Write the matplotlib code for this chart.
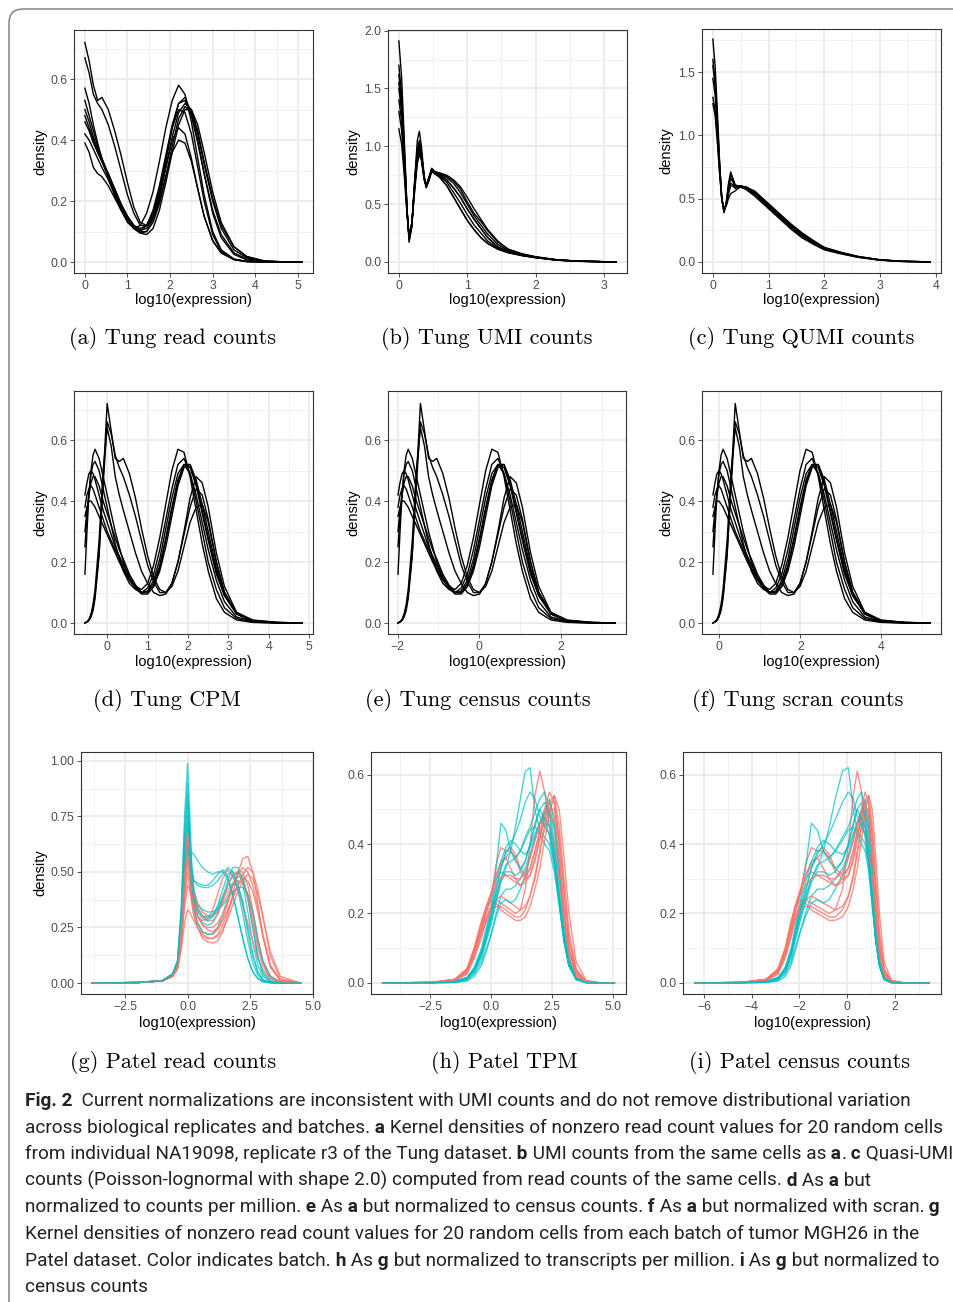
import matplotlib
matplotlib.use("Agg")
import matplotlib.pyplot as plt
from matplotlib.patches import FancyBboxPatch
from matplotlib.transforms import IdentityTransform

W, H = 954, 1302
plt.rcParams['font.family'] = ['Liberation Sans', 'DejaVu Sans']

# ---- (a) Tung read counts ----
a_x = [0, 0.1, 0.2, 0.3, 0.4, 0.55, 0.7, 0.85, 1.0, 1.15, 1.3, 1.45, 1.6, 1.75, 1.9, 2.05,
       2.2, 2.35, 2.5, 2.65, 2.8, 3.0, 3.2, 3.5, 3.8, 4.2, 4.6, 5.1]
a_curves = [
    [0.72, 0.66, 0.58, 0.53, 0.54, 0.50, 0.43, 0.35, 0.26, 0.18, 0.13, 0.12, 0.14, 0.20, 0.28, 0.36, 0.40, 0.39, 0.33, 0.24, 0.15, 0.07, 0.03, 0.008, 0.002, 0, 0, 0],
    [0.67, 0.62, 0.55, 0.52, 0.50, 0.45, 0.38, 0.30, 0.22, 0.16, 0.12, 0.12, 0.15, 0.22, 0.31, 0.40, 0.44, 0.42, 0.34, 0.24, 0.15, 0.07, 0.03, 0.008, 0.002, 0, 0, 0],
    [0.57, 0.52, 0.45, 0.39, 0.34, 0.28, 0.22, 0.17, 0.13, 0.11, 0.12, 0.16, 0.23, 0.33, 0.44, 0.53, 0.58, 0.55, 0.46, 0.34, 0.22, 0.10, 0.04, 0.01, 0.002, 0, 0, 0],
    [0.50, 0.46, 0.41, 0.37, 0.33, 0.28, 0.23, 0.18, 0.14, 0.11, 0.10, 0.12, 0.17, 0.25, 0.35, 0.45, 0.52, 0.53, 0.48, 0.39, 0.29, 0.17, 0.09, 0.03, 0.01, 0.002, 0, 0],
    [0.46, 0.43, 0.39, 0.36, 0.33, 0.28, 0.23, 0.18, 0.14, 0.11, 0.095, 0.10, 0.14, 0.21, 0.31, 0.41, 0.49, 0.52, 0.50, 0.43, 0.33, 0.21, 0.12, 0.05, 0.018, 0.004, 0.001, 0],
    [0.42, 0.40, 0.37, 0.34, 0.31, 0.27, 0.22, 0.18, 0.14, 0.11, 0.095, 0.09, 0.11, 0.17, 0.26, 0.36, 0.45, 0.50, 0.50, 0.45, 0.36, 0.23, 0.13, 0.05, 0.018, 0.004, 0.001, 0],
    [0.39, 0.36, 0.31, 0.29, 0.28, 0.25, 0.21, 0.17, 0.14, 0.115, 0.10, 0.10, 0.13, 0.19, 0.28, 0.38, 0.47, 0.51, 0.49, 0.42, 0.32, 0.20, 0.11, 0.04, 0.014, 0.003, 0, 0],
    [0.48, 0.44, 0.40, 0.36, 0.33, 0.29, 0.24, 0.19, 0.15, 0.12, 0.105, 0.11, 0.15, 0.23, 0.33, 0.44, 0.52, 0.54, 0.49, 0.40, 0.29, 0.16, 0.08, 0.025, 0.007, 0.001, 0, 0],
    [0.53, 0.48, 0.43, 0.38, 0.34, 0.29, 0.24, 0.19, 0.15, 0.12, 0.11, 0.12, 0.16, 0.24, 0.34, 0.44, 0.50, 0.49, 0.42, 0.31, 0.20, 0.09, 0.035, 0.008, 0.001, 0, 0, 0],
]

# ---- (b) Tung UMI counts ----
b_x = [0, 0.04, 0.08, 0.12, 0.15, 0.19, 0.23, 0.27, 0.30, 0.33, 0.37, 0.40, 0.44, 0.48, 0.53,
       0.6, 0.7, 0.8, 0.9, 1.0, 1.1, 1.2, 1.3, 1.45, 1.6, 1.8, 2.0, 2.3, 2.6, 3.18]
b_curves = [
    [1.91, 1.60, 1.05, 0.45, 0.17, 0.30, 0.70, 1.05, 1.13, 1.00, 0.75, 0.64, 0.70, 0.78, 0.76, 0.75, 0.71, 0.64, 0.56, 0.46, 0.37, 0.29, 0.21, 0.13, 0.09, 0.06, 0.04, 0.018, 0.007, 0],
    [1.70, 1.45, 0.98, 0.45, 0.20, 0.32, 0.68, 0.98, 1.05, 0.95, 0.74, 0.66, 0.72, 0.80, 0.77, 0.76, 0.74, 0.70, 0.63, 0.52, 0.42, 0.35, 0.27, 0.17, 0.11, 0.07, 0.045, 0.02, 0.008, 0],
    [1.55, 1.33, 0.92, 0.44, 0.21, 0.33, 0.66, 0.94, 1.00, 0.92, 0.73, 0.66, 0.73, 0.81, 0.78, 0.73, 0.66, 0.56, 0.46, 0.36, 0.28, 0.21, 0.16, 0.11, 0.08, 0.055, 0.037, 0.016, 0.006, 0],
    [1.40, 1.22, 0.86, 0.43, 0.22, 0.34, 0.64, 0.90, 0.97, 0.90, 0.72, 0.66, 0.73, 0.80, 0.78, 0.76, 0.73, 0.68, 0.60, 0.50, 0.40, 0.32, 0.24, 0.15, 0.10, 0.065, 0.042, 0.019, 0.007, 0],
    [1.15, 1.02, 0.74, 0.40, 0.23, 0.33, 0.60, 0.85, 0.93, 0.88, 0.71, 0.65, 0.72, 0.79, 0.78, 0.77, 0.75, 0.71, 0.65, 0.56, 0.46, 0.37, 0.28, 0.18, 0.11, 0.07, 0.045, 0.02, 0.008, 0],
    [1.62, 1.38, 0.94, 0.44, 0.19, 0.31, 0.67, 0.97, 1.03, 0.93, 0.73, 0.65, 0.71, 0.79, 0.76, 0.73, 0.66, 0.56, 0.46, 0.36, 0.28, 0.21, 0.16, 0.11, 0.08, 0.055, 0.037, 0.016, 0.006, 0],
    [1.30, 1.14, 0.81, 0.42, 0.22, 0.34, 0.63, 0.89, 0.96, 0.89, 0.72, 0.66, 0.72, 0.79, 0.77, 0.75, 0.71, 0.64, 0.56, 0.46, 0.37, 0.29, 0.21, 0.13, 0.09, 0.06, 0.04, 0.018, 0.007, 0],
    [1.50, 1.30, 0.90, 0.44, 0.21, 0.33, 0.65, 0.93, 1.00, 0.91, 0.73, 0.65, 0.72, 0.80, 0.77, 0.74, 0.69, 0.60, 0.51, 0.41, 0.32, 0.25, 0.18, 0.12, 0.085, 0.058, 0.038, 0.017, 0.006, 0],
]

# ---- (c) Tung QUMI counts ----
c_x = [0, 0.04, 0.08, 0.12, 0.16, 0.2, 0.24, 0.28, 0.32, 0.36, 0.40, 0.45, 0.5, 0.6, 0.75,
       0.9, 1.05, 1.2, 1.4, 1.6, 1.8, 2.0, 2.3, 2.6, 3.0, 3.4, 3.9]
c_curves = [
    [1.76, 1.55, 1.20, 0.80, 0.50, 0.39, 0.47, 0.62, 0.71, 0.66, 0.61, 0.60, 0.60, 0.58, 0.53, 0.47, 0.41, 0.35, 0.27, 0.20, 0.145, 0.10, 0.068, 0.038, 0.014, 0.004, 0],
    [1.60, 1.43, 1.13, 0.78, 0.50, 0.40, 0.46, 0.58, 0.66, 0.63, 0.60, 0.60, 0.60, 0.58, 0.54, 0.48, 0.42, 0.36, 0.28, 0.21, 0.15, 0.105, 0.07, 0.04, 0.015, 0.004, 0],
    [1.45, 1.32, 1.06, 0.75, 0.50, 0.41, 0.45, 0.55, 0.62, 0.61, 0.59, 0.60, 0.60, 0.59, 0.55, 0.49, 0.43, 0.37, 0.29, 0.22, 0.16, 0.11, 0.073, 0.042, 0.016, 0.004, 0],
    [1.30, 1.20, 0.98, 0.72, 0.50, 0.42, 0.44, 0.50, 0.54, 0.55, 0.56, 0.58, 0.59, 0.59, 0.56, 0.50, 0.44, 0.38, 0.30, 0.23, 0.17, 0.115, 0.076, 0.044, 0.017, 0.005, 0],
    [1.55, 1.40, 1.10, 0.77, 0.50, 0.39, 0.46, 0.60, 0.69, 0.65, 0.60, 0.59, 0.59, 0.57, 0.52, 0.46, 0.40, 0.34, 0.26, 0.19, 0.14, 0.095, 0.063, 0.036, 0.013, 0.003, 0],
    [1.25, 1.16, 0.95, 0.70, 0.49, 0.41, 0.45, 0.54, 0.60, 0.60, 0.58, 0.59, 0.60, 0.59, 0.55, 0.49, 0.43, 0.37, 0.29, 0.22, 0.16, 0.11, 0.072, 0.041, 0.015, 0.004, 0],
]

# ---- (d) CPM, (e) census, (f) scran: same cells, x grids per panel ----
d_x = [-0.55, -0.5, -0.45, -0.4, -0.35, -0.3, -0.2, -0.1, 0.0, 0.1, 0.2, 0.3, 0.4, 0.55, 0.7, 0.85,
       1.0, 1.15, 1.3, 1.45, 1.6, 1.75, 1.9, 2.05, 2.2, 2.35, 2.5, 2.7, 2.9, 3.2, 3.6, 4.2, 4.82]
e_x = [-1.99, -1.94, -1.89, -1.84, -1.79, -1.74, -1.64, -1.54, -1.44, -1.34, -1.24, -1.14, -1.04, -0.89,
       -0.74, -0.59, -0.44, -0.29, -0.14, 0.01, 0.16, 0.31, 0.46, 0.61, 0.76, 0.91, 1.06, 1.26, 1.46,
       1.76, 2.16, 2.76, 3.33]
f_x = [-0.16, -0.11, -0.06, -0.01, 0.04, 0.09, 0.19, 0.29, 0.39, 0.49, 0.59, 0.69, 0.79, 0.94, 1.09,
       1.24, 1.39, 1.54, 1.69, 1.84, 1.99, 2.14, 2.29, 2.44, 2.59, 2.74, 2.89, 3.09, 3.29, 3.59, 3.99,
       4.59, 5.2]
norm_curves = [
    [0, 0.003, 0.008, 0.02, 0.04, 0.08, 0.22, 0.47, 0.72, 0.63, 0.54, 0.53, 0.54, 0.49, 0.41, 0.31, 0.22, 0.15, 0.11, 0.10, 0.12, 0.17, 0.25, 0.33, 0.38, 0.39, 0.33, 0.20, 0.10, 0.03, 0.005, 0.001, 0],
    [0, 0.004, 0.01, 0.025, 0.05, 0.09, 0.23, 0.45, 0.66, 0.62, 0.55, 0.51, 0.48, 0.42, 0.35, 0.27, 0.19, 0.135, 0.10, 0.10, 0.13, 0.20, 0.29, 0.38, 0.44, 0.42, 0.34, 0.20, 0.10, 0.03, 0.005, 0.001, 0],
    [0, 0.005, 0.012, 0.03, 0.06, 0.11, 0.27, 0.50, 0.64, 0.58, 0.48, 0.42, 0.37, 0.30, 0.23, 0.17, 0.13, 0.10, 0.09, 0.095, 0.13, 0.20, 0.30, 0.41, 0.48, 0.46, 0.38, 0.23, 0.12, 0.035, 0.006, 0.001, 0],
    [0.16, 0.30, 0.42, 0.50, 0.55, 0.57, 0.54, 0.48, 0.42, 0.36, 0.30, 0.25, 0.20, 0.15, 0.12, 0.11, 0.13, 0.19, 0.28, 0.39, 0.50, 0.57, 0.56, 0.48, 0.37, 0.26, 0.17, 0.08, 0.035, 0.01, 0.002, 0, 0],
    [0.42, 0.46, 0.49, 0.50, 0.49, 0.47, 0.42, 0.37, 0.33, 0.29, 0.25, 0.22, 0.19, 0.15, 0.12, 0.10, 0.10, 0.13, 0.19, 0.28, 0.38, 0.47, 0.52, 0.51, 0.45, 0.36, 0.27, 0.16, 0.09, 0.03, 0.008, 0.002, 0],
    [0.30, 0.37, 0.42, 0.46, 0.48, 0.48, 0.45, 0.40, 0.36, 0.32, 0.28, 0.24, 0.21, 0.16, 0.125, 0.10, 0.10, 0.12, 0.17, 0.25, 0.35, 0.45, 0.51, 0.52, 0.47, 0.39, 0.30, 0.18, 0.10, 0.035, 0.01, 0.002, 0],
    [0.38, 0.42, 0.44, 0.45, 0.44, 0.42, 0.38, 0.34, 0.30, 0.27, 0.24, 0.21, 0.18, 0.145, 0.115, 0.095, 0.095, 0.12, 0.18, 0.27, 0.37, 0.46, 0.52, 0.52, 0.46, 0.37, 0.28, 0.17, 0.09, 0.03, 0.008, 0.002, 0],
    [0.25, 0.35, 0.43, 0.49, 0.52, 0.53, 0.50, 0.44, 0.38, 0.32, 0.26, 0.21, 0.17, 0.13, 0.11, 0.10, 0.115, 0.16, 0.24, 0.34, 0.44, 0.52, 0.54, 0.49, 0.40, 0.30, 0.20, 0.11, 0.05, 0.015, 0.003, 0, 0],
    [0.35, 0.38, 0.40, 0.40, 0.39, 0.38, 0.35, 0.32, 0.29, 0.26, 0.23, 0.20, 0.175, 0.14, 0.115, 0.10, 0.105, 0.14, 0.21, 0.31, 0.41, 0.49, 0.52, 0.49, 0.42, 0.33, 0.24, 0.14, 0.07, 0.02, 0.005, 0.001, 0],
]

# ---- (g) Patel read counts, two batches ----
g_x = [-3.8, -2.0, -1.0, -0.6, -0.4, -0.25, -0.12, 0.0, 0.08, 0.16, 0.25, 0.4, 0.6, 0.8, 1.0, 1.2,
       1.4, 1.6, 1.8, 2.0, 2.2, 2.4, 2.6, 2.8, 3.0, 3.3, 3.7, 4.5]
g_red = [
    [0, 0.002, 0.01, 0.03, 0.08, 0.25, 0.52, 0.72, 0.62, 0.50, 0.42, 0.36, 0.32, 0.30, 0.30, 0.32, 0.36, 0.40, 0.44, 0.46, 0.45, 0.40, 0.30, 0.18, 0.09, 0.03, 0.005, 0],
    [0, 0.002, 0.01, 0.03, 0.07, 0.22, 0.45, 0.62, 0.52, 0.40, 0.32, 0.25, 0.20, 0.185, 0.18, 0.19, 0.23, 0.30, 0.40, 0.49, 0.56, 0.57, 0.50, 0.36, 0.21, 0.07, 0.01, 0],
    [0, 0.002, 0.01, 0.03, 0.07, 0.20, 0.40, 0.55, 0.47, 0.38, 0.32, 0.27, 0.23, 0.22, 0.22, 0.24, 0.28, 0.33, 0.39, 0.44, 0.49, 0.52, 0.50, 0.42, 0.30, 0.12, 0.02, 0],
    [0, 0.002, 0.01, 0.03, 0.07, 0.18, 0.34, 0.44, 0.42, 0.38, 0.34, 0.30, 0.28, 0.29, 0.33, 0.40, 0.47, 0.51, 0.48, 0.42, 0.35, 0.27, 0.19, 0.11, 0.06, 0.02, 0.003, 0],
    [0, 0.002, 0.01, 0.03, 0.06, 0.15, 0.27, 0.33, 0.32, 0.30, 0.28, 0.25, 0.22, 0.205, 0.20, 0.21, 0.24, 0.29, 0.35, 0.41, 0.46, 0.49, 0.47, 0.40, 0.30, 0.14, 0.03, 0],
    [0, 0.002, 0.01, 0.03, 0.08, 0.24, 0.49, 0.65, 0.56, 0.45, 0.37, 0.30, 0.26, 0.24, 0.23, 0.25, 0.29, 0.36, 0.44, 0.50, 0.50, 0.44, 0.33, 0.20, 0.10, 0.03, 0.004, 0],
    [0, 0.002, 0.01, 0.03, 0.07, 0.22, 0.45, 0.60, 0.52, 0.43, 0.36, 0.30, 0.26, 0.25, 0.25, 0.27, 0.31, 0.37, 0.44, 0.49, 0.52, 0.50, 0.44, 0.34, 0.22, 0.08, 0.012, 0],
    [0, 0.002, 0.01, 0.03, 0.07, 0.19, 0.38, 0.50, 0.44, 0.36, 0.30, 0.25, 0.21, 0.20, 0.20, 0.22, 0.26, 0.32, 0.38, 0.44, 0.47, 0.46, 0.41, 0.32, 0.21, 0.08, 0.012, 0],
    [0, 0.002, 0.01, 0.03, 0.08, 0.25, 0.51, 0.68, 0.58, 0.47, 0.40, 0.34, 0.30, 0.28, 0.28, 0.31, 0.37, 0.44, 0.49, 0.50, 0.46, 0.38, 0.27, 0.16, 0.08, 0.02, 0.003, 0],
]
g_teal = [
    [0, 0.002, 0.01, 0.04, 0.10, 0.35, 0.75, 0.99, 0.78, 0.55, 0.42, 0.34, 0.30, 0.29, 0.30, 0.33, 0.38, 0.42, 0.45, 0.44, 0.37, 0.25, 0.13, 0.05, 0.015, 0.002, 0, 0],
    [0, 0.003, 0.012, 0.04, 0.09, 0.28, 0.52, 0.62, 0.60, 0.59, 0.58, 0.55, 0.52, 0.50, 0.49, 0.50, 0.50, 0.47, 0.40, 0.30, 0.20, 0.11, 0.05, 0.02, 0.006, 0.001, 0, 0],
    [0, 0.002, 0.01, 0.04, 0.09, 0.30, 0.65, 0.85, 0.68, 0.48, 0.37, 0.30, 0.27, 0.26, 0.27, 0.31, 0.38, 0.46, 0.52, 0.52, 0.45, 0.32, 0.18, 0.08, 0.03, 0.005, 0, 0],
    [0, 0.002, 0.01, 0.04, 0.09, 0.27, 0.55, 0.70, 0.60, 0.50, 0.46, 0.44, 0.43, 0.43, 0.44, 0.46, 0.49, 0.52, 0.50, 0.42, 0.31, 0.19, 0.09, 0.035, 0.01, 0.002, 0, 0],
    [0, 0.002, 0.01, 0.04, 0.09, 0.28, 0.58, 0.75, 0.60, 0.44, 0.34, 0.27, 0.23, 0.22, 0.22, 0.25, 0.31, 0.38, 0.44, 0.48, 0.47, 0.38, 0.25, 0.12, 0.05, 0.01, 0.001, 0],
    [0, 0.002, 0.01, 0.035, 0.08, 0.24, 0.47, 0.60, 0.52, 0.44, 0.39, 0.35, 0.33, 0.32, 0.32, 0.33, 0.35, 0.38, 0.41, 0.43, 0.43, 0.40, 0.32, 0.20, 0.10, 0.03, 0.004, 0],
    [0, 0.002, 0.01, 0.04, 0.10, 0.33, 0.70, 0.90, 0.70, 0.52, 0.46, 0.45, 0.44, 0.44, 0.46, 0.49, 0.51, 0.48, 0.40, 0.30, 0.20, 0.11, 0.05, 0.02, 0.006, 0.001, 0, 0],
    [0, 0.002, 0.01, 0.04, 0.09, 0.26, 0.52, 0.65, 0.55, 0.45, 0.38, 0.33, 0.30, 0.30, 0.31, 0.34, 0.39, 0.44, 0.48, 0.50, 0.48, 0.39, 0.25, 0.12, 0.04, 0.008, 0, 0],
    [0, 0.002, 0.01, 0.04, 0.10, 0.31, 0.62, 0.80, 0.64, 0.47, 0.38, 0.32, 0.29, 0.28, 0.30, 0.35, 0.42, 0.49, 0.50, 0.45, 0.35, 0.23, 0.12, 0.05, 0.015, 0.002, 0, 0],
]

# ---- (h) Patel TPM, (i) Patel census counts ----
h_x = [-4.47, -2.5, -1.5, -1.0, -0.7, -0.4, -0.2, 0.0, 0.2, 0.4, 0.6, 0.8, 1.0, 1.2, 1.4, 1.6,
       1.8, 2.0, 2.2, 2.4, 2.6, 2.8, 3.0, 3.2, 3.5, 3.9, 4.5, 5.07]
i_x = [-6.39, -4.5, -3.4, -2.9, -2.6, -2.35, -2.18, -2.0, -1.75, -1.5, -1.25, -1.0, -0.75, -0.5,
       -0.2, 0.05, 0.25, 0.42, 0.6, 0.75, 0.9, 1.05, 1.2, 1.35, 1.55, 1.85, 2.4, 3.44]
tpm_red = [
    [0, 0.001, 0.01, 0.04, 0.10, 0.18, 0.22, 0.25, 0.34, 0.39, 0.38, 0.39, 0.37, 0.33, 0.31, 0.33, 0.38, 0.44, 0.49, 0.52, 0.48, 0.36, 0.21, 0.10, 0.03, 0.004, 0, 0],
    [0, 0.001, 0.008, 0.03, 0.08, 0.15, 0.19, 0.22, 0.24, 0.23, 0.22, 0.21, 0.20, 0.21, 0.27, 0.40, 0.54, 0.61, 0.55, 0.45, 0.36, 0.25, 0.14, 0.06, 0.015, 0.002, 0, 0],
    [0, 0.001, 0.008, 0.03, 0.08, 0.15, 0.20, 0.24, 0.23, 0.21, 0.20, 0.19, 0.18, 0.18, 0.19, 0.22, 0.27, 0.33, 0.41, 0.49, 0.54, 0.50, 0.36, 0.20, 0.06, 0.008, 0, 0],
    [0, 0.001, 0.01, 0.04, 0.09, 0.17, 0.22, 0.26, 0.30, 0.32, 0.31, 0.30, 0.29, 0.28, 0.29, 0.31, 0.35, 0.41, 0.48, 0.50, 0.45, 0.33, 0.20, 0.09, 0.025, 0.003, 0, 0],
    [0, 0.001, 0.006, 0.025, 0.07, 0.13, 0.18, 0.22, 0.24, 0.25, 0.24, 0.23, 0.22, 0.21, 0.22, 0.25, 0.30, 0.37, 0.45, 0.52, 0.54, 0.45, 0.30, 0.15, 0.04, 0.005, 0, 0],
    [0, 0.001, 0.01, 0.035, 0.09, 0.16, 0.21, 0.25, 0.31, 0.35, 0.36, 0.33, 0.30, 0.28, 0.30, 0.33, 0.38, 0.43, 0.46, 0.45, 0.40, 0.30, 0.18, 0.08, 0.02, 0.002, 0, 0],
    [0, 0.001, 0.01, 0.04, 0.10, 0.17, 0.22, 0.26, 0.31, 0.34, 0.36, 0.38, 0.36, 0.32, 0.30, 0.31, 0.36, 0.42, 0.48, 0.52, 0.52, 0.42, 0.26, 0.12, 0.035, 0.004, 0, 0],
    [0, 0.001, 0.008, 0.03, 0.08, 0.14, 0.18, 0.21, 0.22, 0.22, 0.21, 0.20, 0.19, 0.19, 0.21, 0.25, 0.31, 0.38, 0.45, 0.50, 0.50, 0.41, 0.27, 0.13, 0.035, 0.004, 0, 0],
    [0, 0.001, 0.01, 0.035, 0.09, 0.16, 0.21, 0.25, 0.28, 0.30, 0.31, 0.31, 0.30, 0.30, 0.32, 0.36, 0.41, 0.46, 0.50, 0.55, 0.52, 0.38, 0.22, 0.10, 0.025, 0.003, 0, 0],
]
tpm_teal = [
    [0, 0.001, 0.004, 0.015, 0.04, 0.09, 0.14, 0.19, 0.25, 0.30, 0.33, 0.38, 0.45, 0.53, 0.61, 0.62, 0.50, 0.44, 0.42, 0.40, 0.34, 0.23, 0.12, 0.05, 0.01, 0.001, 0, 0],
    [0, 0.001, 0.004, 0.015, 0.045, 0.10, 0.16, 0.22, 0.33, 0.46, 0.44, 0.38, 0.36, 0.38, 0.42, 0.45, 0.49, 0.53, 0.55, 0.50, 0.40, 0.27, 0.14, 0.06, 0.012, 0.001, 0, 0],
    [0, 0, 0.002, 0.008, 0.025, 0.06, 0.10, 0.14, 0.20, 0.25, 0.27, 0.27, 0.28, 0.30, 0.33, 0.37, 0.42, 0.46, 0.49, 0.50, 0.44, 0.31, 0.17, 0.07, 0.015, 0.002, 0, 0],
    [0, 0.001, 0.003, 0.012, 0.035, 0.08, 0.13, 0.18, 0.24, 0.30, 0.34, 0.35, 0.36, 0.38, 0.41, 0.44, 0.45, 0.43, 0.40, 0.38, 0.32, 0.22, 0.12, 0.05, 0.01, 0.001, 0, 0],
    [0, 0, 0.001, 0.005, 0.018, 0.05, 0.09, 0.14, 0.19, 0.23, 0.24, 0.23, 0.24, 0.27, 0.31, 0.36, 0.41, 0.46, 0.50, 0.53, 0.46, 0.32, 0.17, 0.07, 0.015, 0.002, 0, 0],
    [0, 0.001, 0.004, 0.015, 0.04, 0.09, 0.15, 0.21, 0.29, 0.35, 0.39, 0.41, 0.40, 0.38, 0.37, 0.39, 0.43, 0.46, 0.48, 0.45, 0.36, 0.24, 0.12, 0.05, 0.01, 0.001, 0, 0],
    [0, 0.001, 0.004, 0.015, 0.04, 0.09, 0.14, 0.20, 0.27, 0.33, 0.37, 0.40, 0.43, 0.47, 0.52, 0.55, 0.53, 0.48, 0.45, 0.43, 0.36, 0.24, 0.12, 0.05, 0.01, 0.001, 0, 0],
    [0, 0, 0.002, 0.01, 0.03, 0.07, 0.12, 0.17, 0.23, 0.29, 0.32, 0.32, 0.31, 0.32, 0.35, 0.40, 0.45, 0.50, 0.52, 0.48, 0.38, 0.25, 0.13, 0.05, 0.01, 0.001, 0, 0],
    [0, 0.001, 0.003, 0.012, 0.035, 0.08, 0.13, 0.19, 0.26, 0.33, 0.38, 0.38, 0.35, 0.33, 0.35, 0.40, 0.46, 0.50, 0.47, 0.42, 0.34, 0.23, 0.12, 0.05, 0.01, 0.001, 0, 0],
]

sub_captions = ["(a) Tung read counts", "(b) Tung UMI counts", "(c) Tung QUMI counts",
                "(d) Tung CPM", "(e) Tung census counts", "(f) Tung scran counts",
                "(g) Patel read counts", "(h) Patel TPM", "(i) Patel census counts"]

R, B = False, True
caption_lines = [
    [("Fig. 2", B), ("  Current normalizations are inconsistent with UMI counts and do not remove distributional variation", R)],
    [("across biological replicates and batches.", R), (" a", B), (" Kernel densities of nonzero read count values for 20 random cells", R)],
    [("from individual NA19098, replicate r3 of the Tung dataset.", R), (" b", B), (" UMI counts from the same cells as", R),
     (" a", B), (".", R), (" c", B), (" Quasi-UMI", R)],
    [("counts (Poisson-lognormal with shape 2.0) computed from read counts of the same cells.", R), (" d", B),
     (" As", R), (" a", B), (" but", R)],
    [("normalized to counts per million.", R), (" e", B), (" As", R), (" a", B), (" but normalized to census counts.", R),
     (" f", B), (" As", R), (" a", B), (" but normalized with scran.", R), (" g", B)],
    [("Kernel densities of nonzero read count values for 20 random cells from each batch of tumor MGH26 in the", R)],
    [("Patel dataset. Color indicates batch.", R), (" h", B), (" As", R), (" g", B), (" but normalized to transcripts per million.", R),
     (" i", B), (" As", R), (" g", B), (" but normalized to", R)],
    [("census counts", R)],
]

RED, TEAL = "#F8766D", "#00BFC4"

fig = plt.figure(figsize=(W / 100, H / 100), dpi=100)
fig.patch.set_facecolor("white")


def panel(box, xlim, ylim, xt, xtl, xmin, yt, ytl, ymin, xlab_y, ylab_x=None):
    l, t, r, b = box
    ax = fig.add_axes([l / W, 1 - b / H, (r - l) / W, (b - t) / H])
    ax.set_xlim(xlim)
    ax.set_ylim(ylim)
    ax.set_xticks(xt, xtl)
    ax.set_yticks(yt, ytl)
    ax.set_xticks(xmin, minor=True)
    ax.set_yticks(ymin, minor=True)
    ax.grid(which="major", color="#EBEBEB", lw=1.3)
    ax.grid(which="minor", color="#F0F0F0", lw=0.7)
    ax.set_axisbelow(True)
    for s in ax.spines.values():
        s.set_color("#333333")
        s.set_linewidth(0.8)
    ax.tick_params(which="major", length=2.75, width=0.6, color="#333333",
                   labelcolor="#4D4D4D", labelsize=8.8, pad=2.0)
    ax.tick_params(which="minor", length=0)
    ax.set_xlabel("log10(expression)", fontsize=10.5, va="center")
    ax.xaxis.set_label_coords(0.5, (b - xlab_y) / (b - t))
    if ylab_x is not None:
        ax.set_ylabel("density", fontsize=10.5, va="center")
        ax.yaxis.set_label_coords((ylab_x - l) / (r - l), 0.5)
    return ax


M = "\u2212"
y06 = ([0, 0.2, 0.4, 0.6], ["0.0", "0.2", "0.4", "0.6"], [0.1, 0.3, 0.5, 0.7])
LW = 1.0

ax = panel((74, 30, 313, 273), (-0.255, 5.355), (-0.036, 0.761),
           [0, 1, 2, 3, 4, 5], ["0", "1", "2", "3", "4", "5"], [0.5, 1.5, 2.5, 3.5, 4.5],
           *y06, 300, 40)
for y in a_curves:
    ax.plot(a_x, y, color="black", lw=LW)

ax = panel((388, 30, 627, 273), (-0.159, 3.339), (-0.0955, 2.005),
           [0, 1, 2, 3], ["0", "1", "2", "3"], [0.5, 1.5, 2.5],
           [0, 0.5, 1.0, 1.5, 2.0], ["0.0", "0.5", "1.0", "1.5", "2.0"], [0.25, 0.75, 1.25, 1.75],
           300, 353)
for y in b_curves:
    ax.plot(b_x, y, color="black", lw=LW)

ax = panel((702, 29, 941, 273), (-0.195, 4.095), (-0.088, 1.84),
           [0, 1, 2, 3, 4], ["0", "1", "2", "3", "4"], [0.5, 1.5, 2.5, 3.5],
           [0, 0.5, 1.0, 1.5], ["0.0", "0.5", "1.0", "1.5"], [0.25, 0.75, 1.25, 1.75],
           300, 666)
for y in c_curves:
    ax.plot(c_x, y, color="black", lw=LW)

ax = panel((74, 391, 313, 634), (-0.82, 5.09), (-0.036, 0.761),
           [0, 1, 2, 3, 4, 5], ["0", "1", "2", "3", "4", "5"], [-0.5, 0.5, 1.5, 2.5, 3.5, 4.5],
           *y06, 662, 40)
for y in norm_curves:
    ax.plot(d_x, y, color="black", lw=LW)

ax = panel((388, 391, 626, 634), (-2.235, 3.6), (-0.036, 0.761),
           [-2, 0, 2], [M + "2", "0", "2"], [-1, 1, 3],
           *y06, 662, 353)
for y in norm_curves:
    ax.plot(e_x, y, color="black", lw=LW)

ax = panel((702, 391, 941, 634), (-0.43, 5.47), (-0.036, 0.761),
           [0, 2, 4], ["0", "2", "4"], [1, 3, 5],
           *y06, 662, 666)
for y in norm_curves:
    ax.plot(f_x, y, color="black", lw=LW)

ax = panel((81, 752, 313, 994), (-4.25, 5.0), (-0.0495, 1.04),
           [-2.5, 0, 2.5, 5.0], [M + "2.5", "0.0", "2.5", "5.0"], [-3.75, -1.25, 1.25, 3.75],
           [0, 0.25, 0.5, 0.75, 1.0], ["0.00", "0.25", "0.50", "0.75", "1.00"],
           [0.125, 0.375, 0.625, 0.875], 1023, 40)
for yr, yt in zip(g_red, g_teal):
    ax.plot(g_x, yr, color=RED, lw=LW, alpha=0.8)
    ax.plot(g_x, yt, color=TEAL, lw=LW, alpha=0.7)

y066 = ([0, 0.2, 0.4, 0.6], ["0.0", "0.2", "0.4", "0.6"], [0.1, 0.3, 0.5])
ax = panel((371, 752, 626, 994), (-4.95, 5.55), (-0.032, 0.665),
           [-2.5, 0, 2.5, 5.0], [M + "2.5", "0.0", "2.5", "5.0"], [-3.75, -1.25, 1.25, 3.75],
           *y066, 1023)
for yr, yt in zip(tpm_red, tpm_teal):
    ax.plot(h_x, yr, color=RED, lw=LW, alpha=0.8)
    ax.plot(h_x, yt, color=TEAL, lw=LW, alpha=0.7)

ax = panel((683, 752, 941, 994), (-6.88, 3.93), (-0.032, 0.665),
           [-6, -4, -2, 0, 2], [M + "6", M + "4", M + "2", "0", "2"], [-5, -3, -1, 1, 3],
           *y066, 1023)
for yr, yt in zip(tpm_red, tpm_teal):
    ax.plot(i_x, yr, color=RED, lw=LW, alpha=0.8)
    ax.plot(i_x, yt, color=TEAL, lw=LW, alpha=0.7)

# sub-figure captions
cap_pos = [(173, 339), (487, 339), (801, 339),
           (167, 701), (478, 701), (798, 701),
           (173, 1062), (504, 1062), (800, 1062)]
for (cx, cy), s in zip(cap_pos, sub_captions):
    fig.text(cx / W, 1 - cy / H, s, ha="center", va="center", family="cmr10", fontsize=16)

# figure caption
CAP_FONT = ["Liberation Sans Narrow", "Roboto", "DejaVu Sans"]
renderer = fig.canvas.get_renderer()


def seg_width(s, bold, size):
    t = fig.text(0, 0, s, fontsize=size, fontweight="bold" if bold else "normal", family=CAP_FONT)
    w = t.get_window_extent(renderer).width
    t.remove()
    return w


base = 12
widest = max(sum(seg_width(s, bd, base) for s, bd in line) for line in caption_lines)
cap_size = base * 925 / widest

for k, line in enumerate(caption_lines):
    x = 25
    yb = 1106 + 26.6 * k
    for s, bd in line:
        t = fig.text(x / W, 1 - yb / H, s, fontsize=cap_size, va="baseline",
                     fontweight="bold" if bd else "normal", family=CAP_FONT, color="#222222")
        x += t.get_window_extent(renderer).width

# frame around the figure
fig.add_artist(FancyBboxPatch((9, -200), 1200, H - 9 + 200,
                              boxstyle="round,pad=0,rounding_size=14",
                              transform=IdentityTransform(), fill=False,
                              ec="#777777", lw=1.0))

fig.savefig("out.png", dpi=100)
